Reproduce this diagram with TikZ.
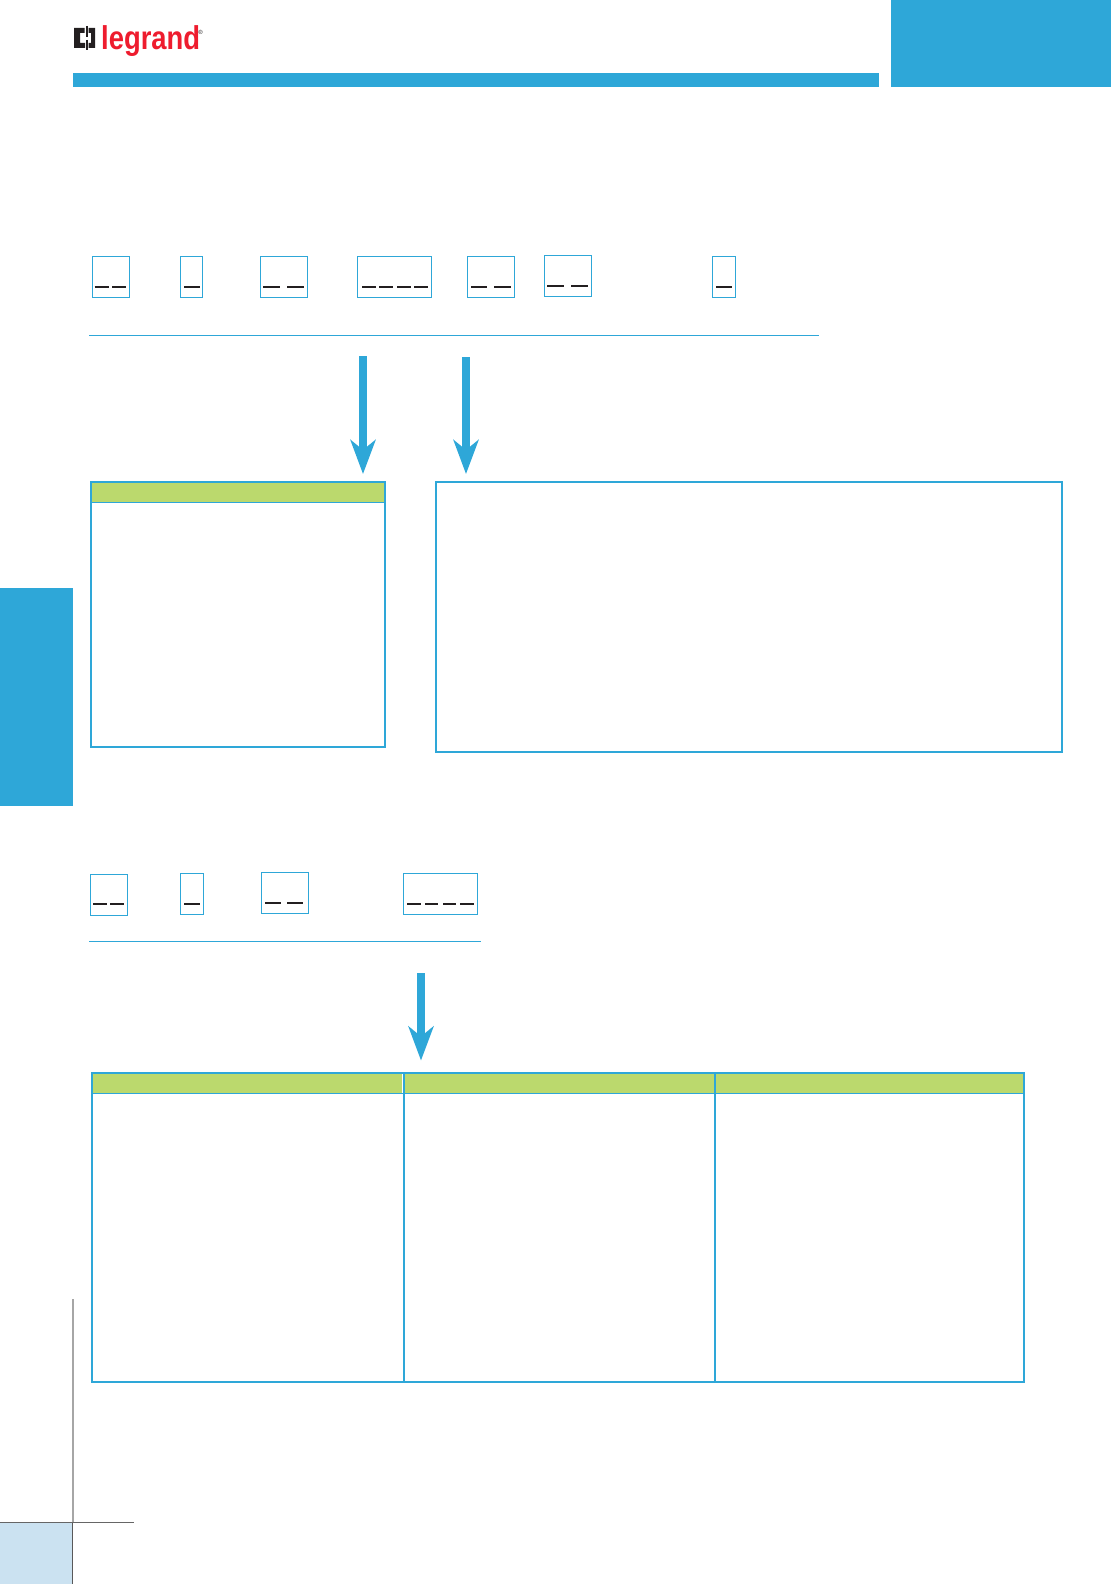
\documentclass[tikz,border=0pt]{standalone}
\usepackage{fontspec}
\usepackage{graphicx}
\usetikzlibrary{arrows.meta}
\setmainfont{Liberation Sans}
\definecolor{pageblue}{HTML}{2EA7D8}
\definecolor{headgreen}{HTML}{BBD96D}
\definecolor{paleblue}{HTML}{CBE2F1}
\definecolor{logored}{HTML}{EE1C2E}
\definecolor{logoblack}{HTML}{231F20}
\tikzset{
  digitbox/.style={draw=pageblue, line width=1pt, inner sep=0pt, outer sep=0pt, anchor=north west, minimum height=41pt},
  digitmark/.style={draw=logoblack, line width=2pt},
  rulerline/.style={draw=pageblue, line width=1pt},
  flowarrow/.style={draw=pageblue, line width=8pt, -{Stealth[length=34pt,width=25pt,inset=10pt,fill=pageblue]}},
  panelbox/.style={draw=pageblue, line width=2pt, inner sep=0pt, outer sep=0pt, anchor=north west},
  headbar/.style={fill=headgreen},
}
\begin{document}
\begin{tikzpicture}[x=1pt,y=-1pt]
        \useasboundingbox (0,0) rectangle (1111,1584);
        % Page furniture:
        \fill[pageblue] (73,73) rectangle (879,87);
        \fill[pageblue] (891,0) rectangle (1111,87);
        \fill[pageblue] (0,588) rectangle (73,806);
        \fill[paleblue] (0,1522) rectangle (72.5,1584);
        \draw[black!35, line width=2pt] (72.7,1299) -- (72.7,1522);
        \draw[black!65, line width=1pt] (72.7,1522) -- (72.7,1584);
        \draw[black!60, line width=1pt] (0,1522.5) -- (134,1522.5);
        %
        % Logo:
        \fill[logoblack] (74,28) -- (84.5,28) -- (84.5,33) -- (80,33) -- (80,43) -- (85,43) -- (85,48) -- (74,48) -- cycle;
        \fill[logoblack] (88.5,28) -- (95,28) -- (95,48) -- (88.5,48) -- (88.5,43) -- (91,43) -- (91,33) -- (88.5,33) -- cycle;
        \draw[logoblack, line width=1.6pt] (86.7,26) -- (86.7,37);
        \draw[logoblack, line width=1.6pt] (86.7,40) -- (86.7,50.5);
        \node[anchor=west, inner sep=0pt, text=logored, font=\fontsize{33}{33}\selectfont\bfseries] (logotext) at (101,41.5) {\scalebox{.83}[1]{legrand}};
        \node[inner sep=0pt, text=logoblack, font=\fontsize{6}{6}\selectfont] (logomark) at (200.5,32) {®};
        %
        % First code row:
        \node[digitbox, minimum width=37pt] (codea) at (92.5,256.5) {};
        \node[digitbox, minimum width=22pt] (codeb) at (180.5,256.5) {};
        \node[digitbox, minimum width=47pt] (codec) at (260.5,256.5) {};
        \node[digitbox, minimum width=74pt] (coded) at (357.5,256.5) {};
        \node[digitbox, minimum width=47pt] (codee) at (467.5,256.5) {};
        \node[digitbox, minimum width=47pt] (codef) at (544.5,255.5) {};
        \node[digitbox, minimum width=23pt] (codeg) at (712.5,256.5) {};
        \draw[digitmark] (94.7,287) -- (109,287);
        \draw[digitmark] (112,287) -- (126,287);
        \draw[digitmark] (184,287) -- (200,287);
        \draw[digitmark] (263,287) -- (280,287);
        \draw[digitmark] (287,287) -- (304,287);
        \draw[digitmark] (362,287) -- (376,287);
        \draw[digitmark] (379,287) -- (393,287);
        \draw[digitmark] (397,287) -- (411,287);
        \draw[digitmark] (414,287) -- (428,287);
        \draw[digitmark] (471,287) -- (487,287);
        \draw[digitmark] (494,287) -- (511,287);
        \draw[digitmark] (547,286) -- (564,286);
        \draw[digitmark] (571,286) -- (588,286);
        \draw[digitmark] (716,287) -- (732,287);
        \draw[rulerline] (89,335.5) -- (819,335.5);
        %
        % Arrows to the panels:
        \coordinate (arrowastart) at (363,356);
        \coordinate (arrowaend) at (363,474);
        \coordinate (arrowbstart) at (466,357);
        \coordinate (arrowbend) at (466,474);
        \draw[flowarrow] (arrowastart) -- (arrowaend);
        \draw[flowarrow] (arrowbstart) -- (arrowbend);
        %
        % Panels:
        \fill[headbar] (91,482) rectangle (385,502);
        \draw[pageblue, line width=1pt] (91,502.5) -- (385,502.5);
        \node[panelbox, minimum width=294pt, minimum height=265pt] (panelleft) at (91,482) {};
        \node[panelbox, minimum width=626pt, minimum height=270pt] (panelright) at (436,482) {};
        %
        % Second code row:
        \node[digitbox, minimum width=37pt] (codeh) at (90.5,874.5) {};
        \node[digitbox, minimum width=23pt] (codei) at (180.5,873.5) {};
        \node[digitbox, minimum width=47pt] (codej) at (261.5,872.5) {};
        \node[digitbox, minimum width=74pt] (codek) at (403.5,873.5) {};
        \draw[digitmark] (93,904) -- (107,904);
        \draw[digitmark] (110,904) -- (124,904);
        \draw[digitmark] (184,904) -- (200,904);
        \draw[digitmark] (265,903) -- (281,903);
        \draw[digitmark] (287,903) -- (303,903);
        \draw[digitmark] (407,904) -- (421,904);
        \draw[digitmark] (425,904) -- (438,904);
        \draw[digitmark] (443,904) -- (456,904);
        \draw[digitmark] (460,904) -- (474,904);
        \draw[rulerline] (89,941.5) -- (481,941.5);
        %
        % Arrow to the table:
        \coordinate (arrowcstart) at (421,973);
        \coordinate (arrowcend) at (421,1060.5);
        \draw[flowarrow] (arrowcstart) -- (arrowcend);
        %
        % Table:
        \fill[headbar] (92,1073) rectangle (402.3,1093);
        \fill[headbar] (404,1073) rectangle (1024,1093);
        \draw[pageblue, line width=1pt] (92,1093.5) -- (1024,1093.5);
        \node[panelbox, minimum width=932pt, minimum height=309pt] (tableframe) at (92,1073) {};
        \draw[pageblue, line width=2pt] (404,1073) -- (404,1382);
        \draw[pageblue, line width=2pt] (715,1073) -- (715,1382);
\end{tikzpicture}
\end{document}
